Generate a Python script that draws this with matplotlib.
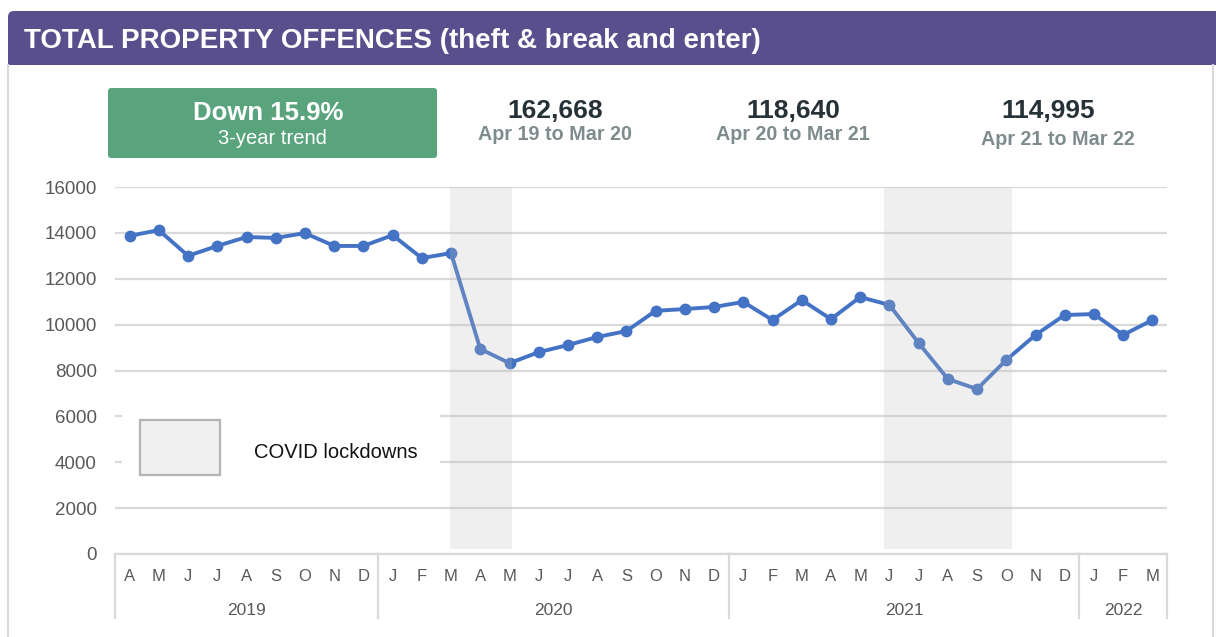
import matplotlib.pyplot as plt
from matplotlib.patches import FancyBboxPatch, Rectangle
from matplotlib.transforms import blended_transform_factory

plt.rcParams['font.family'] = ['Liberation Sans', 'DejaVu Sans']

# monthly totals, Apr 2019 .. Mar 2022
months = ['A', 'M', 'J', 'J', 'A', 'S', 'O', 'N', 'D',
          'J', 'F', 'M', 'A', 'M', 'J', 'J', 'A', 'S', 'O', 'N', 'D',
          'J', 'F', 'M', 'A', 'M', 'J', 'J', 'A', 'S', 'O', 'N', 'D',
          'J', 'F', 'M']
offences = [13870, 14120, 13000, 13430, 13820, 13780, 13990, 13430, 13430,
            13900, 12900, 13120, 8940, 8320, 8800, 9110, 9460, 9720, 10600, 10680, 10770,
            10990, 10200, 11070, 10240, 11200, 10860, 9200, 7630, 7190, 8460, 9550, 10420,
            10460, 9550, 10200]

# year groups: label, first month index, last month index
years = ['2019', '2020', '2021', '2022']
year_start = [0, 9, 21, 33]
year_end = [8, 20, 32, 35]

# covid lockdown periods (in month index units)
lockdowns = [(10.96, 13.09), (25.82, 30.2)]

# summary cards
trend_text = 'Down 15.9%'
trend_sub = '3-year trend'
totals = ['162,668', '118,640', '114,995']
periods = ['Apr 19 to Mar 20', 'Apr 20 to Mar 21', 'Apr 21 to Mar 22']

W, H = 1216, 637
fig = plt.figure(figsize=(W / 100, H / 100), dpi=100)

# background layer in pixel coordinates
bg = fig.add_axes([0, 0, 1, 1])
bg.set_xlim(0, W)
bg.set_ylim(H, 0)
bg.axis('off')

purple = '#594f8c'
border = '#d9d9d9'
bg.plot([8, 8], [65, H], color=border, lw=1.5)
bg.plot([1213, 1213], [65, H], color=border, lw=1.5)
bg.add_patch(FancyBboxPatch((8, 11), 1240, 54, boxstyle='round,pad=0,rounding_size=6',
                            fc=purple, ec='none'))
bg.add_patch(Rectangle((8, 30), 1240, 35, fc=purple, ec='none'))
bg.text(24, 47.5, 'TOTAL PROPERTY OFFENCES (theft & break and enter)', color='white',
        fontsize=20, fontweight='bold', va='baseline', ha='left')

# green trend card
bg.add_patch(FancyBboxPatch((108, 88), 329, 70, boxstyle='round,pad=0,rounding_size=3',
                            fc='#5aa47d', ec='none'))
bg.text(268, 120, trend_text, color='white', fontsize=18.5, fontweight='bold',
        ha='center', va='baseline')
bg.text(272, 144, trend_sub, color='white', fontsize=14.5, ha='center', va='baseline')

card_x = [555, 793, 1048]
sub_x = [555, 793, 1058]
sub_y = [140, 140, 145]
for i in range(3):
    bg.text(card_x[i], 117.5, totals[i], color='#263238', fontsize=19, fontweight='bold',
            ha='center', va='baseline')
    bg.text(sub_x[i], sub_y[i], periods[i], color='#7f8c8d', fontsize=14.2, fontweight='bold',
            ha='center', va='baseline')

# main chart
ax = fig.add_axes([115 / W, 1 - 554 / H, (1167 - 115) / W, 367 / H])
ax.set_facecolor('none')
x = list(range(len(offences)))
ax.plot(x, offences, color='#4472c4', lw=2.8, marker='o', ms=7.5, zorder=2,
        solid_capstyle='round')
for a, b in lockdowns:
    ax.add_patch(Rectangle((a, 220), b - a, 16000 - 220, fc='#bfbfbf', alpha=0.235,
                           ec='none', zorder=3))

ax.set_xlim(-0.5, len(offences) - 0.5)
ax.set_ylim(0, 16000)
ax.set_yticks(range(0, 16001, 2000))
ax.set_yticklabels([str(v) for v in range(0, 16001, 2000)])
ax.tick_params(axis='y', length=0, pad=13, labelsize=13.5, labelcolor='#595959')
ax.set_xticks([])
ax.grid(axis='y', color=border, lw=1.6)
ax.set_axisbelow(True)
for s in ['top', 'right', 'left']:
    ax.spines[s].set_visible(False)
ax.spines['bottom'].set_color(border)
ax.spines['bottom'].set_linewidth(1.6)

trans = blended_transform_factory(ax.transData, ax.transAxes)
for i, m in enumerate(months):
    ax.text(i, -27 / 367, m, transform=trans, ha='center', va='baseline',
            fontsize=12, color='#595959')
for lab, s, e in zip(years, year_start, year_end):
    ax.text((s + e) / 2, -61 / 367, lab, transform=trans, ha='center', va='baseline',
            fontsize=12.5, color='#595959')
seps = [year_start[0] - 0.5] + [e + 0.5 for e in year_end]
for sx in seps:
    ax.plot([sx, sx], [0, -64 / 367], transform=trans, color=border, lw=1.6, clip_on=False)

# legend for the lockdown shading, on a white patch over the gridlines
ax.add_patch(Rectangle((122, 398), 318, 92, transform=bg.transData, fc='white',
                       ec='none', zorder=4))
ax.add_patch(Rectangle((140, 420), 80, 55, transform=bg.transData, fc='#f0f0f0',
                       ec='#b3b3b3', lw=1.6, zorder=5))
ax.text(254, 452, 'COVID lockdowns', transform=bg.transData, fontsize=14.5, color='#111111',
        ha='left', va='center', zorder=5)

fig.savefig('out.png', dpi=100)
